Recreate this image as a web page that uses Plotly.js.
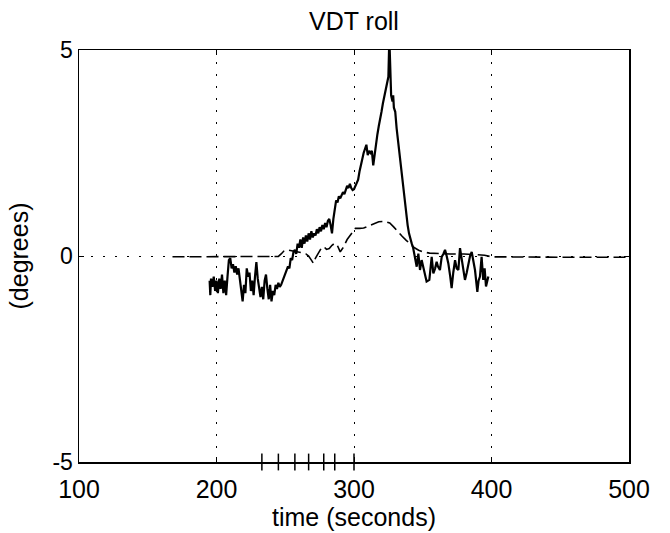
<!DOCTYPE html>
<html>
<head>
<meta charset="utf-8">
<script src="https://cdn.plot.ly/plotly-3.0.1.min.js"></script>
<style>
  html, body { margin: 0; padding: 0; background: #fff; }
  #chart { width: 670px; height: 533px; }
</style>
</head>
<body>
<div id="chart"></div>
<script>
// Measured VDT roll angle (solid trace), degrees vs. time in seconds
const rollTime = [
  195, 195.5, 196, 197, 198, 199, 200, 201, 202, 203, 204, 205, 206, 207, 208, 209,
  210, 211, 212, 213, 214, 215, 216, 217, 218, 219, 220, 221, 222, 223, 224, 225,
  226, 227, 228, 229, 230, 231, 232, 233, 234, 235, 236, 237, 238, 239, 240, 241,
  242, 243, 244, 245, 246, 247, 248, 249, 250, 251, 252, 253, 254, 255, 256, 257,
  258, 259, 260, 261, 262, 263, 264, 265, 266, 267, 268, 269, 270, 271, 272, 273,
  274, 275, 276, 277, 278, 279, 280, 281, 282, 283, 284, 285, 286, 287, 288, 289,
  290, 291, 292, 293, 294, 295, 296, 297, 298, 299, 300, 301, 302, 303, 304, 305,
  306, 307, 308, 309, 310, 311, 312, 313, 314, 315, 316, 317, 318, 319, 320, 321,
  322, 323, 324, 325, 325.7, 326.3, 327, 328, 328.5, 329, 330, 331, 332, 333, 334, 335,
  336, 337, 338, 339, 340, 341, 342, 343, 344, 345, 345.6, 346.8, 348, 349.2, 350.5, 351.6,
  352.8, 354.8, 356.5, 357.7, 359, 360.1, 361, 362.5, 363.8, 365, 366.2, 367.4, 368.6, 370, 371, 372.2,
  373.5, 374.7, 375.9, 377.1, 378.3, 379.5, 380.7, 382, 383.1, 384.4, 385.6, 386.8, 388, 389.7, 390.6, 391.6,
  392.8, 394, 395, 396, 397.7
];
const rollDeg = [
  -0.6, -0.95, -0.55, -0.75, -0.5, -0.85, -0.6, -0.9, -0.55, -0.8, -0.45, -0.9, -0.6, -0.95, -0.5, -0.1,
  -0.05, -0.3, -0.2, -0.4, -0.25, -0.45, -0.3, -0.6, -0.8, -1.1, -0.7, -0.9, -0.3, -0.5, -0.4, -0.85,
  -0.6, -0.95, -0.5, -0.15, -0.55, -0.8, -1.0, -0.75, -1.05, -0.6, -0.45, -0.8, -1.05, -0.7, -1.1, -0.85,
  -0.95, -0.7, -0.8, -0.65, -0.75, -0.7, -0.6, -0.55, -0.45, -0.35, -0.25, -0.3, -0.05, -0.1, 0.1, 0.15,
  0.05, 0.3, 0.2, 0.4, 0.2, 0.45, 0.3, 0.5, 0.35, 0.55, 0.4, 0.6, 0.45, 0.55, 0.5, 0.65,
  0.55, 0.7, 0.6, 0.75, 0.65, 0.8, 0.7, 0.85, 0.9, 0.75, 0.55, 0.9, 1.1, 1.35, 1.3, 1.45,
  1.4, 1.5, 1.55, 1.5, 1.6, 1.7, 1.65, 1.75, 1.65, 1.6, 1.62, 1.7, 1.8, 1.85, 2.05, 2.25,
  2.35, 2.5, 2.6, 2.7, 2.45, 2.55, 2.5, 2.55, 2.2, 2.5, 2.7, 2.95, 3.15, 3.3, 3.5, 3.7,
  3.85, 4.05, 4.2, 4.35, 5.3, 4.3, 3.9, 3.75, 3.9, 3.6, 3.5, 3.1, 2.8, 2.4, 2.1, 1.8,
  1.55, 1.25, 1.0, 0.75, 0.55, 0.4, 0.3, 0.2, 0.05, -0.1, -0.26, 0.06, -0.34, -0.1, -0.3, -0.5,
  -0.62, -0.58, -0.02, -0.42, -0.3, -0.14, -0.25, -0.34, -0.02, 0.05, 0.15, 0.0, -0.18, -0.5, -0.78, -0.4,
  -0.1, -0.3, -0.34, 0.19, -0.1, -0.34, -0.58, -0.4, -0.18, 0.0, 0.1, -0.1, -0.34, -0.87, -0.6, -0.5,
  -0.02, -0.58, -0.3, -0.74, -0.5
];

// Model roll response (dashed trace)
const modelTime = [
  168, 180, 200, 220, 240, 245, 247, 249, 251, 253, 256, 259, 262, 265, 267, 269,
  270.5, 272, 274, 276, 278, 280, 282, 284, 286, 288, 290, 292, 295, 298, 301, 304,
  307, 310, 314, 318, 322, 326, 329, 332, 335, 338, 341, 344, 347, 350, 355, 360,
  370, 380, 390, 395, 400, 420, 450, 480, 498
];
const modelDeg = [
  -0.02, -0.02, -0.02, -0.02, -0.02, -0.01, 0.05, 0.12, 0.15, 0.14, 0.12, 0.1, 0.08, 0.05, 0.0, -0.1,
  -0.18, -0.05, 0.07, 0.18, 0.23, 0.16, 0.18, 0.26, 0.31, 0.25, 0.1, 0.2, 0.4, 0.55, 0.67, 0.67,
  0.68, 0.72, 0.78, 0.83, 0.84, 0.8, 0.7, 0.58, 0.48, 0.38, 0.28, 0.2, 0.14, 0.1, 0.07, 0.06,
  0.05, 0.05, 0.04, 0.02, -0.02, -0.03, -0.03, -0.03, -0.03
];

// Event marks along the time axis
const eventTime = [233, 245, 257, 267, 278, 286, 300];

// Axis ticks
const xTicks = [100, 200, 300, 400, 500];
const yTicks = [-5, 0, 5];
const yTickText = ["-5", "0", "5"];

const FONT = "Arial, 'Liberation Sans', Helvetica, sans-serif";

const traces = [
  {
    x: modelTime, y: modelDeg, type: "scatter", mode: "lines",
    line: { color: "#000", width: 1.6, dash: "12px,5px" },
    hoverinfo: "skip"
  },
  {
    x: rollTime, y: rollDeg, type: "scatter", mode: "lines",
    line: { color: "#000", width: 2.2 },
    hoverinfo: "skip"
  },
  {
    x: eventTime, y: eventTime.map(() => -5), type: "scatter", mode: "markers",
    marker: { symbol: "line-ns", size: 12, line: { color: "#000", width: 1.5 } },
    cliponaxis: false, hoverinfo: "skip"
  }
];

const layout = {
  width: 670, height: 533,
  margin: { l: 79, r: 41, t: 50, b: 71 },
  paper_bgcolor: "#fff", plot_bgcolor: "#fff",
  showlegend: false,
  font: { family: FONT, color: "#000", size: 25 },
  title: {
    text: "VDT roll",
    font: { family: FONT, size: 25, color: "#000" },
    x: 0.5, xref: "paper", xanchor: "center",
    y: 1 - 21 / 533, yref: "container", yanchor: "middle"
  },
  xaxis: {
    range: [100, 500],
    tickmode: "array", tickvals: xTicks,
    ticks: "inside", ticklen: 5, tickwidth: 1, tickcolor: "#000",
    showline: true, linecolor: "#000", linewidth: 1.5, mirror: "ticks",
    showgrid: true, gridcolor: "#000", gridwidth: 1, griddash: "2px,10px",
    zeroline: false,
    ticklabelstandoff: 4,
    tickfont: { family: FONT, size: 25, color: "#000" },
    title: { text: "time (seconds)", font: { family: FONT, size: 25, color: "#000" }, standoff: 3 }
  },
  yaxis: {
    range: [-5, 5],
    tickmode: "array", tickvals: yTicks, ticktext: yTickText,
    ticks: "inside", ticklen: 5, tickwidth: 1, tickcolor: "#000",
    showline: true, linecolor: "#000", linewidth: 1.5, mirror: "ticks",
    showgrid: true, gridcolor: "#000", gridwidth: 1, griddash: "2px,10px",
    zeroline: false,
    tickfont: { family: FONT, size: 23, color: "#000" },
    title: { text: "(degrees)", font: { family: FONT, size: 25, color: "#000" }, standoff: 16 }
  }
};

Plotly.newPlot("chart", traces, layout, { staticPlot: true, displayModeBar: false });
</script>
</body>
</html>
